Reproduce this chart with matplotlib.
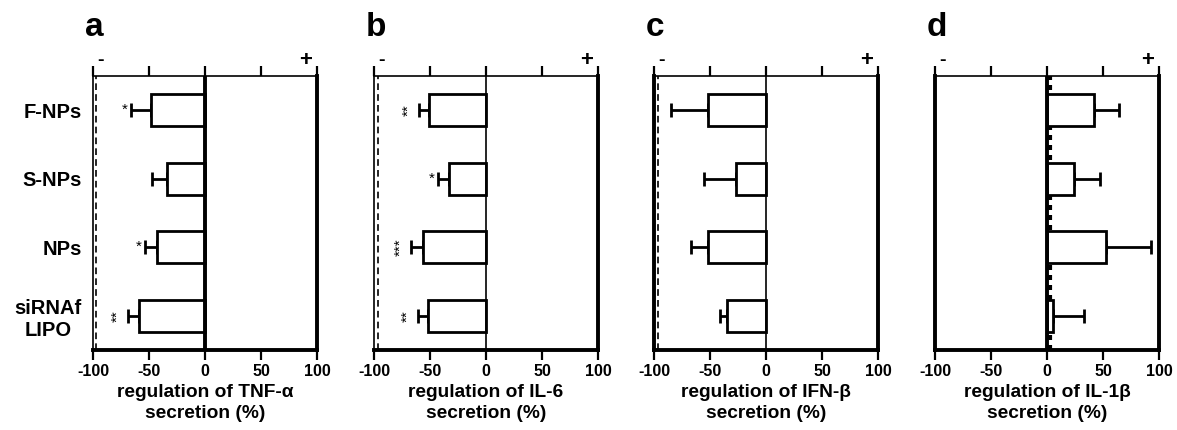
import matplotlib
matplotlib.use('Agg')
from matplotlib import pyplot as plt

plt.rcParams['font.family'] = ['Liberation Sans', 'DejaVu Sans']
plt.rcParams['font.weight'] = 'bold'
plt.rcParams['axes.unicode_minus'] = False

# Data
categories = ['F-NPs', 'S-NPs', 'NPs', 'siRNAf\nLIPO']
panel_letters = ['a', 'b', 'c', 'd']
xlabels = ['regulation of TNF-\u03b1\nsecretion (%)',
           'regulation of IL-6\nsecretion (%)',
           'regulation of IFN-\u03b2\nsecretion (%)',
           'regulation of IL-1\u03b2\nsecretion (%)']

tnf_mean = [-48, -34, -43, -59]
tnf_err = [18, 13, 11, 10]
tnf_stars = ['*', '', '*', '**']

il6_mean = [-51, -33, -56, -52]
il6_err = [9, 10, 11, 9]
il6_stars = ['**', '*', '***', '**']

ifn_mean = [-52, -27, -52, -35]
ifn_err = [33, 28, 15, 6]
ifn_stars = ['', '', '', '']

il1_mean = [42, 24, 53, 5]
il1_err = [22, 23, 40, 28]
il1_stars = ['', '', '', '']

control_line = [-97, -96, -96, 3]

means = [tnf_mean, il6_mean, ifn_mean, il1_mean]
errs = [tnf_err, il6_err, ifn_err, il1_err]
stars = [tnf_stars, il6_stars, ifn_stars, il1_stars]

# per-panel line widths (left spine, zero line)
left_lw = [1.2, 1.2, 2.8, 2.8]
zero_lw = [2.8, 1.2, 1.2, 2.8]

fig = plt.figure(figsize=(11.77, 4.30), dpi=100)
lefts = [93, 374, 654, 935]

for i in range(4):
    ax = fig.add_axes([lefts[i] / 1177, 80 / 430, 224 / 1177, 274 / 430])
    y = list(range(len(categories)))
    m = means[i]
    e = errs[i]

    lower = [v if mm < 0 else 0 for v, mm in zip(e, m)]
    upper = [v if mm > 0 else 0 for v, mm in zip(e, m)]

    ax.barh(y, m, height=0.47, color='white', edgecolor='black', linewidth=2.0, zorder=3)
    ax.errorbar(m, y, xerr=[lower, upper], fmt='none', ecolor='black',
                elinewidth=2.0, capsize=5, capthick=2.0, zorder=2)

    ax.axvline(0, color='black', lw=zero_lw[i], zorder=4)
    if i < 3:
        ax.axvline(control_line[i], color='black', lw=1.2, ls=(0, (4, 2.5)), zorder=1)
    else:
        ax.axvline(control_line[i], color='black', lw=3.0, ls=(0, (1.2, 1.2)), zorder=1)

    # significance stars
    for j in range(len(categories)):
        s = stars[i][j]
        if s:
            xs = m[j] - e[j] - 3
            rot = 90 if len(s) > 1 else 0
            ax.text(xs, j, s, ha='right', va='center', fontsize=11,
                    rotation=rot, fontweight='normal')

    ax.set_xlim(-100, 100)
    ax.set_ylim(3.5, -0.5)
    ax.set_xticks([-100, -50, 0, 50, 100])
    ax.tick_params(axis='x', which='both', direction='out', length=7, width=1.6,
                   top=True, labelsize=11.5, pad=3)
    for lab in ax.get_xticklabels():
        lab.set_fontweight('bold')

    if i == 0:
        ax.set_yticks(y)
        ax.set_yticklabels(categories, fontsize=14.5, fontweight='bold', multialignment='center')
        ax.tick_params(axis='y', length=0, pad=8)
    else:
        ax.set_yticks([])

    ax.spines['top'].set_linewidth(1.2)
    ax.spines['bottom'].set_linewidth(2.8)
    ax.spines['right'].set_linewidth(2.8)
    ax.spines['left'].set_linewidth(left_lw[i])

    ax.set_xlabel(xlabels[i], fontsize=13.8, fontweight='bold', labelpad=4, linespacing=1.25)

    trans = ax.get_xaxis_transform()
    ax.text(-93, 1.055, '-', transform=trans, ha='center', va='center', fontsize=14, fontweight='bold')
    ax.text(90, 1.055, '+', transform=trans, ha='center', va='center', fontsize=16, fontweight='bold')

    fig.text((lefts[i] - 8) / 1177, 1 - 12 / 430, panel_letters[i], ha='left', va='top',
             fontsize=24, fontweight='bold')

fig.savefig('out.png', dpi=100)
